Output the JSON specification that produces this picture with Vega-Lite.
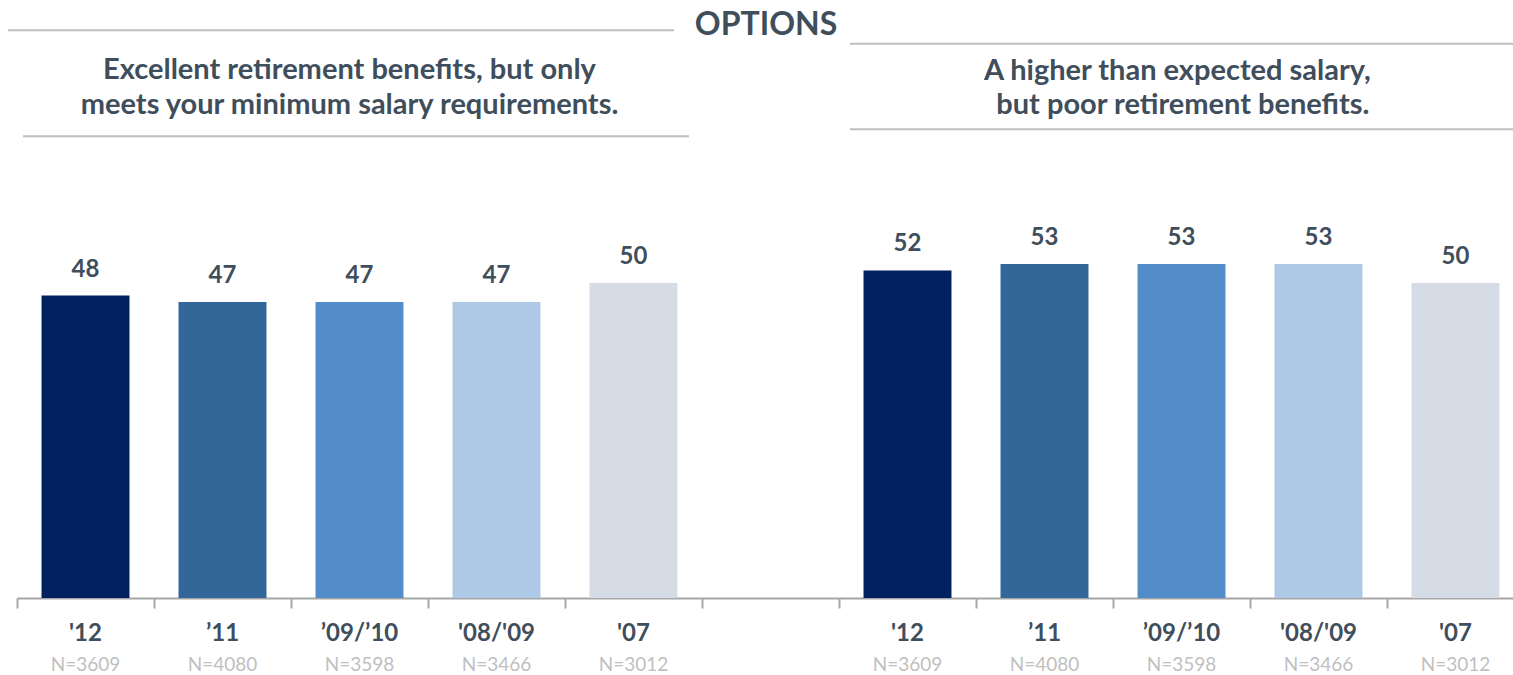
{
  "$schema": "https://vega.github.io/schema/vega-lite/v6.json",
  "width": 1496,
  "height": 598,
  "autosize": {"type": "none"},
  "padding": {"left": 17, "top": 0, "right": 0, "bottom": 77},
  "background": "white",
  "config": {"view": {"stroke": null}, "font": "Lato"},
  "datasets": {
    "bars": [
      {"id": "L:'12", "year": "'12", "n": "N=3609", "value": 48},
      {"id": "L:’11", "year": "’11", "n": "N=4080", "value": 47},
      {"id": "L:’09/’10", "year": "’09/’10", "n": "N=3598", "value": 47},
      {"id": "L:'08/'09", "year": "'08/'09", "n": "N=3466", "value": 47},
      {"id": "L:'07", "year": "'07", "n": "N=3012", "value": 50},
      {"id": "R:'12", "year": "'12", "n": "N=3609", "value": 52},
      {"id": "R:’11", "year": "’11", "n": "N=4080", "value": 53},
      {"id": "R:’09/’10", "year": "’09/’10", "n": "N=3598", "value": 53},
      {"id": "R:'08/'09", "year": "'08/'09", "n": "N=3466", "value": 53},
      {"id": "R:'07", "year": "'07", "n": "N=3012", "value": 50}
    ],
    "rules": [
      {"x": -0.066, "x2": 4.796, "y": 90.11},
      {"x": 6.08, "x2": 11, "y": 87.98},
      {"x": 0.044, "x2": 4.905, "y": 73.29},
      {"x": 6.08, "x2": 11, "y": 74.4}
    ],
    "heads": [
      {"kind": "main", "text": "OPTIONS", "x": 5.467, "y": 90.95},
      {"kind": "sub", "text": "Excellent retirement benefits, but only", "x": 2.427, "y": 83.73},
      {"kind": "sub", "text": "meets your minimum salary requirements.", "x": 2.427, "y": 78.33},
      {"kind": "sub", "text": "A higher than expected salary,", "x": 8.47, "y": 83.6},
      {"kind": "sub", "text": "but poor retirement benefits.", "x": 8.51, "y": 78.33}
    ]
  },
  "layer": [
    {
      "data": {"name": "bars"},
      "encoding": {
        "x": {
          "field": "id",
          "type": "nominal",
          "sort": null,
          "scale": {
            "domain": ["L:'12", "L:’11", "L:’09/’10", "L:'08/'09", "L:'07", "G:", "R:'12", "R:’11", "R:’09/’10", "R:'08/'09", "R:'07"],
            "range": [0, 1507],
            "paddingInner": 0,
            "paddingOuter": 0
          },
          "axis": {
            "title": null,
            "labels": false,
            "domainColor": "#a6a6a6",
            "domainWidth": 2,
            "ticks": true,
            "tickBand": "extent",
            "tickColor": "#a6a6a6",
            "tickWidth": 2,
            "tickSize": 10
          }
        }
      },
      "layer": [
        {
          "mark": {"type": "bar", "width": {"band": 0.642}},
          "encoding": {
            "y": {"field": "value", "type": "quantitative", "scale": {"domain": [0, 94.92], "nice": false, "zero": true}, "axis": null},
            "color": {
              "field": "year",
              "type": "nominal",
              "scale": {"domain": ["'12", "’11", "’09/’10", "'08/'09", "'07"], "range": ["#002060", "#336699", "#538dc9", "#adc9e5", "#d6dce5"]},
              "legend": null
            }
          }
        },
        {
          "mark": {"type": "text", "baseline": "alphabetic", "dy": -19, "fontSize": 24, "fontWeight": "bold", "color": "#404e5c"},
          "encoding": {
            "y": {"field": "value", "type": "quantitative"},
            "text": {"field": "value", "type": "quantitative"}
          }
        },
        {
          "mark": {"type": "text", "baseline": "middle", "dy": 36, "fontSize": 24, "fontWeight": "bold", "color": "#404e5c"},
          "encoding": {
            "y": {"datum": 0},
            "text": {"field": "year", "type": "nominal"}
          }
        },
        {
          "mark": {"type": "text", "baseline": "middle", "dy": 67, "fontSize": 19, "color": "#bfbfbf"},
          "encoding": {
            "y": {"datum": 0},
            "text": {"field": "n", "type": "nominal"}
          }
        }
      ]
    },
    {
      "layer": [
        {
          "data": {"name": "rules"},
          "mark": {"type": "rule", "strokeWidth": 2, "color": "#bfbfbf"},
          "encoding": {
            "x": {"field": "x", "type": "quantitative", "scale": {"domain": [0, 11], "range": [0, 1507], "nice": false, "zero": false}, "axis": null},
            "x2": {"field": "x2"},
            "y": {"field": "y", "type": "quantitative", "scale": {"domain": [0, 94.92], "nice": false}, "axis": null}
          }
        },
        {
          "data": {"name": "heads"},
          "transform": [{"filter": "datum.kind === 'main'"}],
          "mark": {"type": "text", "baseline": "middle", "align": "center", "fontSize": 32, "fontWeight": "bold", "color": "#404e5c"},
          "encoding": {
            "x": {"field": "x", "type": "quantitative"},
            "y": {"field": "y", "type": "quantitative"},
            "text": {"field": "text", "type": "nominal"}
          }
        },
        {
          "data": {"name": "heads"},
          "transform": [{"filter": "datum.kind === 'sub'"}],
          "mark": {"type": "text", "baseline": "middle", "align": "center", "fontSize": 29, "fontWeight": "bold", "color": "#404e5c"},
          "encoding": {
            "x": {"field": "x", "type": "quantitative"},
            "y": {"field": "y", "type": "quantitative"},
            "text": {"field": "text", "type": "nominal"}
          }
        }
      ]
    }
  ],
  "resolve": {"scale": {"x": "independent"}}
}
